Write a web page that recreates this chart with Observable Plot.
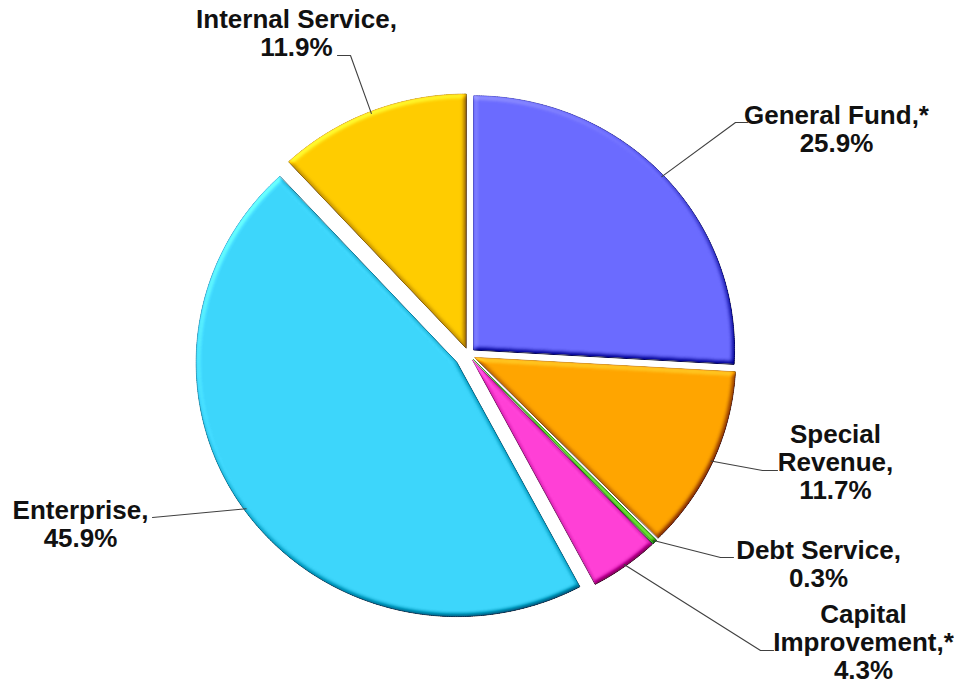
<!DOCTYPE html>
<html>
<head>
<meta charset="utf-8">
<script src="https://cdn.jsdelivr.net/npm/d3@7"></script>
<script src="https://cdn.jsdelivr.net/npm/@observablehq/plot@0.6"></script>
<style>
  html, body { margin: 0; padding: 0; background: #ffffff; }
  #chart svg { display: block; }
</style>
</head>
<body>
<div id="chart"></div>
<script>
// ---- Data (clockwise from 12 o'clock) ----
const categories = ["General Fund,*", "Special Revenue,", "Debt Service,", "Capital Improvement,*", "Enterprise,", "Internal Service,"];
const shares = [25.9, 11.7, 0.3, 4.3, 45.9, 11.9];
// how each category name is broken into lines on the chart
const nameLines = [["General Fund,*"], ["Special", "Revenue,"], ["Debt Service,"], ["Capital", "Improvement,*"], ["Enterprise,"], ["Internal Service,"]];

// ---- Styles ----
const sliceFill = ["#6b6bff", "#ffa500", "#66dd33", "#ff40d6", "#3dd6fb", "#ffcc00"];
const sliceEdge = ["#4848c8", "#c88000", "#3a9a1a", "#b82a9c", "#1fa0c4", "#c89c00"];

// ---- Layout ----
const pie = {cx: 468, cy: 354, rx: 261, ry: 254};
const explode = [7, 7, 7, 7, 14, 7];
// label placement: centre x, first baseline, leader elbow and end
const labelX = [836, 835, 818, 863, 80, 296];
const labelBase = [123, 442, 558, 622, 518, 27];
const lineStep = 28;
const fontSize = 26;
const leaderElbow = [[735, 122], [762, 470], [720, 557], [760, 650], [152, 517], [350, 55]];
const leaderEnd = [[747, 122], [777, 470], [733, 557], [773, 650], [152, 517], [337, 55]];

// ---- Geometry derived from the data ----
const total = d3.sum(shares);
const slicePts = [];
const leaderPts = [];
const textRows = [];
let acc = 0;
categories.forEach((name, i) => {
  const a0 = acc / total * 2 * Math.PI;
  acc += shares[i];
  const a1 = acc / total * 2 * Math.PI;
  const mid = (a0 + a1) / 2;
  const ax = pie.cx + explode[i] * Math.sin(mid);
  const ay = pie.cy - explode[i] * Math.cos(mid);
  slicePts.push({name, x: ax, y: ay, fill: sliceFill[i], stroke: sliceEdge[i]});
  const n = Math.max(2, Math.ceil((a1 - a0) / (Math.PI / 360)));
  for (let k = 0; k <= n; k++) {
    const a = a0 + (a1 - a0) * k / n;
    slicePts.push({name, x: ax + pie.rx * Math.sin(a), y: ay - pie.ry * Math.cos(a), fill: sliceFill[i], stroke: sliceEdge[i]});
  }
  // leader line from arc midpoint
  leaderPts.push({name, x: ax + (pie.rx - 2) * Math.sin(mid), y: ay - (pie.ry - 2) * Math.cos(mid)});
  leaderPts.push({name, x: leaderElbow[i][0], y: leaderElbow[i][1]});
  leaderPts.push({name, x: leaderEnd[i][0], y: leaderEnd[i][1]});
  // label text rows
  const lines = [...nameLines[i], d3.format(".1f")(shares[i]) + "%"];
  lines.forEach((t, j) => {
    textRows.push({x: labelX[i], y: labelBase[i] + j * lineStep - 0.32 * fontSize, text: t});
  });
});

const chart = Plot.plot({
  width: 954,
  height: 683,
  margin: 0,
  style: {background: "#ffffff", overflow: "visible"},
  x: {domain: [0, 954], range: [0, 954], axis: null},
  y: {domain: [0, 683], range: [0, 683], axis: null},
  marks: [
    Plot.line(slicePts, {x: "x", y: "y", z: "name", fill: "fill", stroke: "stroke", strokeWidth: 1, curve: "linear-closed"}),
    Plot.line(leaderPts, {x: "x", y: "y", z: "name", stroke: "#404040", strokeWidth: 1.1}),
    Plot.text(textRows, {x: "x", y: "y", text: "text", fontSize: fontSize, fontWeight: "bold", fontFamily: "Liberation Sans, Arial, Helvetica, sans-serif", fill: "#111111", textAnchor: "middle"})
  ]
});

// bevel effect on the slices
const svg = d3.select(chart);
const defs = svg.insert("defs", ":first-child");
defs.html(`
  <filter id="bevel" x="-5%" y="-5%" width="110%" height="110%" color-interpolation-filters="sRGB">
    <feGaussianBlur in="SourceAlpha" stdDeviation="2.5" result="blur"/>
    <feDiffuseLighting in="blur" surfaceScale="4" diffuseConstant="1" lighting-color="#ffffff" result="diff">
      <feDistantLight azimuth="235" elevation="45"/>
    </feDiffuseLighting>
    <feComposite in="SourceGraphic" in2="diff" operator="arithmetic" k1="0" k2="1" k3="0.6" k4="-0.424" result="lit"/>
    <feComposite in="lit" in2="SourceAlpha" operator="in"/>
  </filter>`);
const lineGroups = svg.selectAll('g[aria-label="line"]').nodes();
if (lineGroups.length) d3.select(lineGroups[0]).selectAll("path").attr("filter", "url(#bevel)");

document.getElementById("chart").appendChild(chart);
</script>
</body>
</html>
